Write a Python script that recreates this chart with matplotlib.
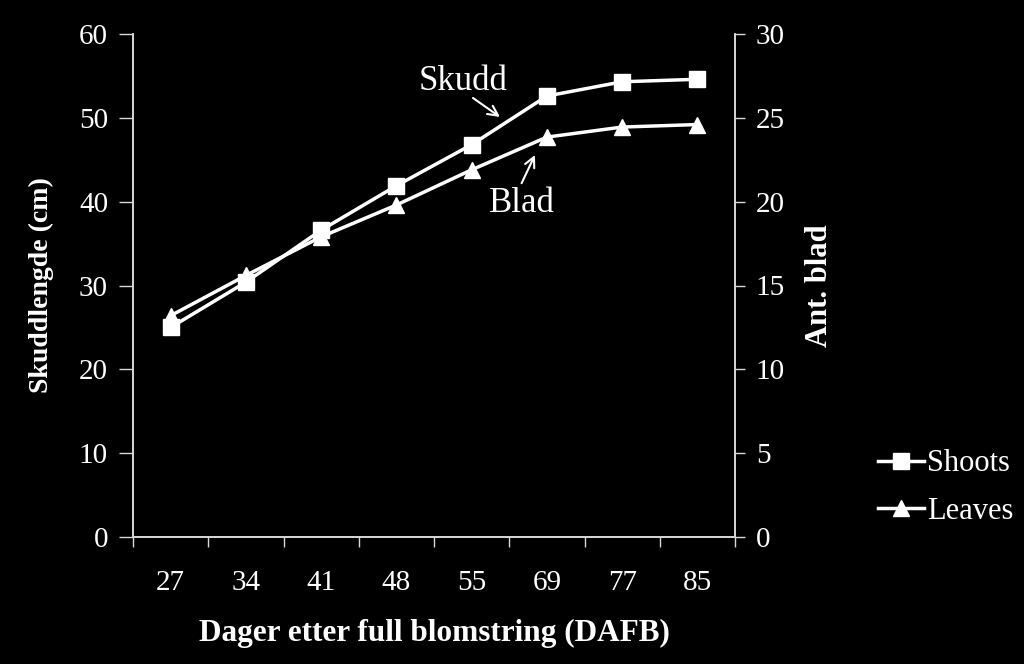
import matplotlib.pyplot as plt
import numpy as np

days = ['27', '34', '41', '48', '55', '69', '77', '85']
shoots = [25.0, 30.4, 36.6, 41.9, 46.8, 52.6, 54.3, 54.6]   # cm, left axis
leaves = [13.2, 15.6, 17.9, 19.8, 21.9, 23.85, 24.45, 24.6]  # count, right axis

plt.rcParams['font.family'] = 'Liberation Serif'
fg = 'white'
ax_col = '#d9d9d9'

fig = plt.figure(figsize=(10.24, 6.64), dpi=100, facecolor='black')
ax = fig.add_axes([133 / 1024, 1 - 537 / 664, 602 / 1024, 503 / 664], facecolor='black')
ax2 = ax.twinx()

x = np.arange(len(days))
l1, = ax.plot(x, shoots, color=fg, lw=2.5, marker='s', ms=12, label='Shoots')
l2, = ax2.plot(x, leaves, color=fg, lw=2.5, marker='^', ms=12, label='Leaves')

ax.set_xlim(-0.5, len(days) - 0.5)
ax.set_ylim(0, 60)
ax2.set_ylim(0, 30)
ax.set_yticks(range(0, 61, 10))
ax2.set_yticks(range(0, 31, 5))
ax.set_xticks(x)
ax.set_xticklabels(days)
ax.set_xticks(np.arange(-0.5, len(days)), minor=True)
ax.tick_params(axis='x', which='major', length=0, pad=24, labelsize=21, colors=fg)
ax.tick_params(axis='x', which='minor', length=7, width=1, color=ax_col, direction='out')
ax.tick_params(axis='y', length=10, width=1, color=ax_col, labelsize=21, labelcolor=fg, pad=8)
ax2.tick_params(axis='y', length=7, width=1, color=ax_col, labelsize=21, labelcolor=fg, pad=8)

for a in (ax, ax2):
    a.spines['top'].set_visible(False)
    for s in ('left', 'right', 'bottom'):
        a.spines[s].set_color(ax_col)
        a.spines[s].set_linewidth(1.2)

ax.set_xlabel('Dager etter full blomstring (DAFB)', color=fg, fontsize=22.5,
              fontweight='bold', labelpad=16)
ax.set_ylabel('Skuddlengde (cm)', color=fg, fontsize=20, fontweight='bold', labelpad=18)
ax2.set_ylabel('Ant. blad', color=fg, fontsize=22, fontweight='bold', labelpad=14)

# text callouts
arrow = dict(arrowstyle='->', color=fg, lw=1.5, shrinkA=0, shrinkB=0, mutation_scale=18)
ax.text(3.885, 54.3, 'Skudd', color=fg, fontsize=25, ha='center', va='center')
ax.annotate('', xy=(4.377, 50.1), xytext=(4.018, 52.37), arrowprops=arrow)
ax.text(4.67, 39.8, 'Blad', color=fg, fontsize=25, ha='center', va='center')
ax.annotate('', xy=(4.842, 45.57), xytext=(4.664, 42.2), arrowprops=arrow)

leg = fig.legend(handles=[l1, l2], loc='upper left', bbox_to_anchor=(866 / 1024, 1 - 437 / 664),
                 frameon=False, fontsize=22, handlelength=1.5, handletextpad=0.1,
                 labelspacing=0.6, borderaxespad=0)
for t in leg.get_texts():
    t.set_color(fg)

fig.savefig('out.png', dpi=100, facecolor='black')
